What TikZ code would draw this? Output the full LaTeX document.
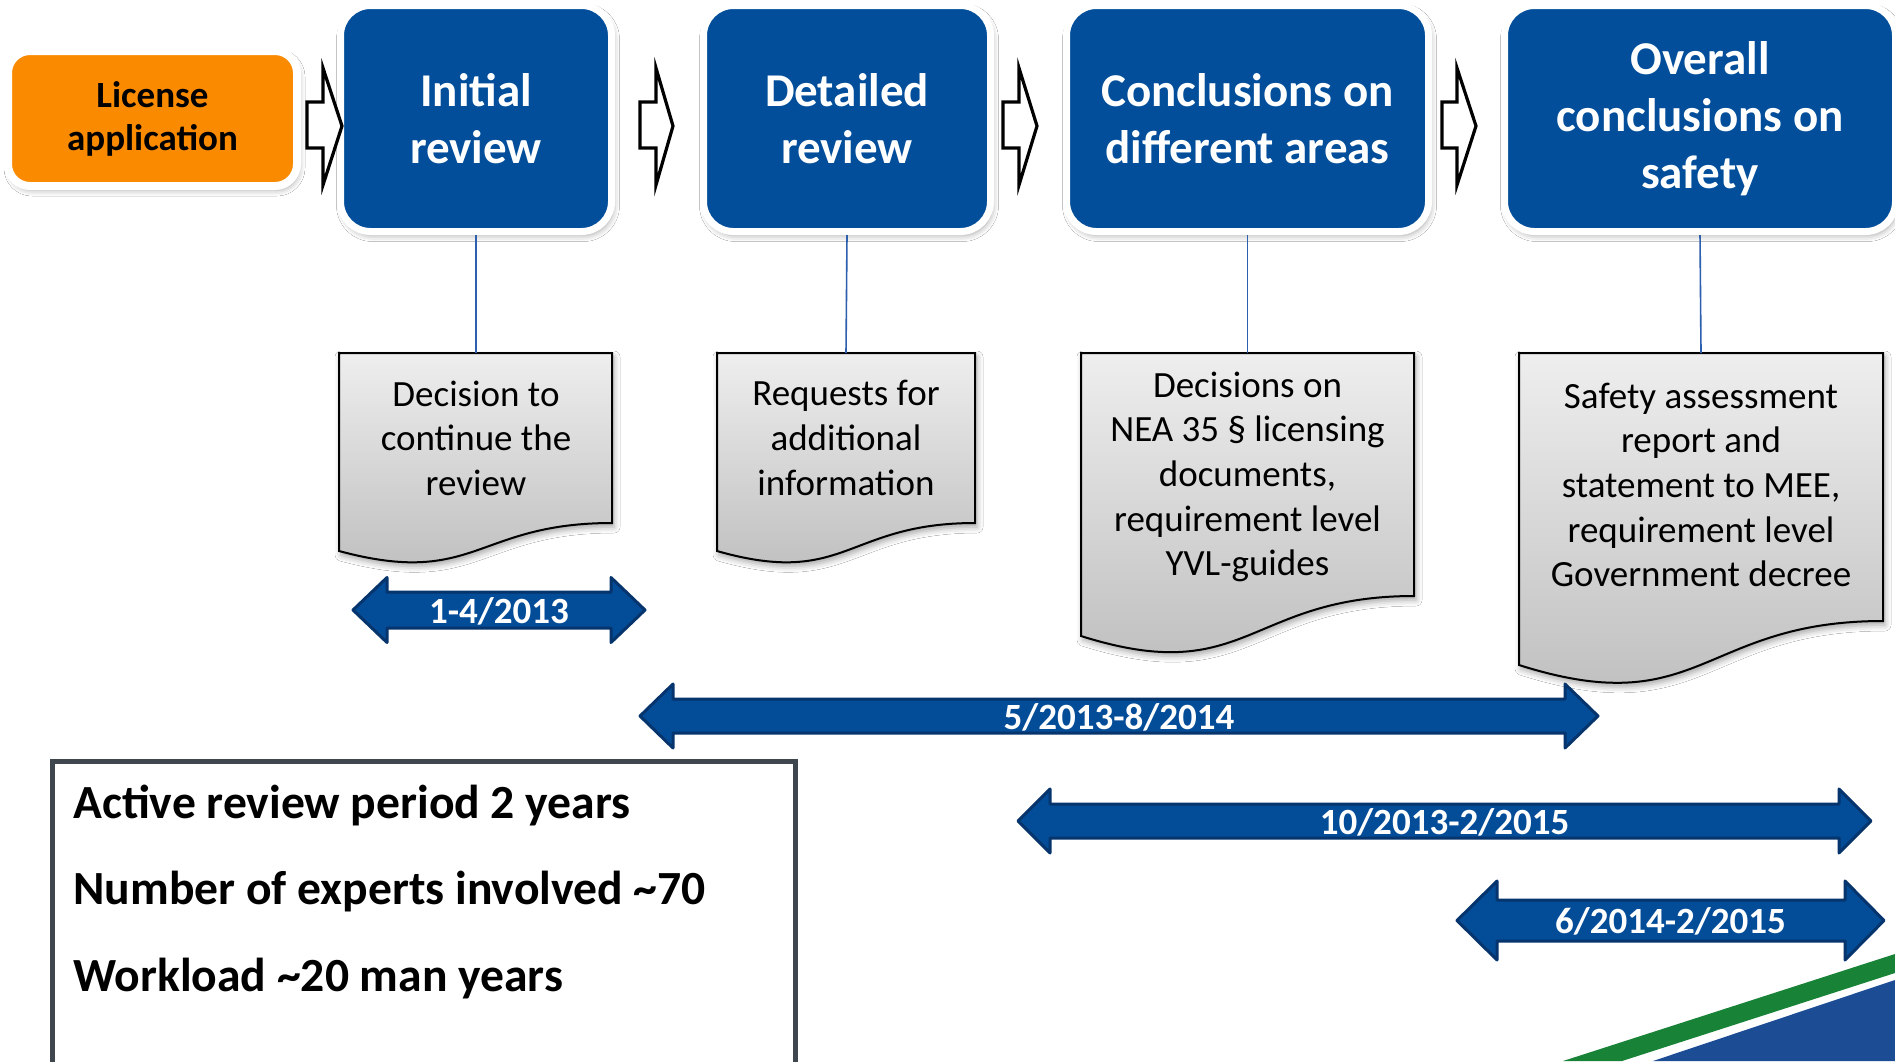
\documentclass[tikz,border=0pt]{standalone}
\usepackage{fontspec}
\setmainfont{Carlito}
\usetikzlibrary{shadows.blur}
\definecolor{boxblue}{RGB}{2,78,154}
\definecolor{arrblue}{RGB}{3,76,152}
\definecolor{arredge}{RGB}{6,52,108}
\definecolor{lineblue}{RGB}{45,95,175}
\definecolor{licorange}{RGB}{250,138,0}
\definecolor{framegray}{RGB}{64,70,78}
\definecolor{swgreen}{RGB}{24,130,55}
\definecolor{swblue}{RGB}{28,76,148}
\definecolor{doctop}{RGB}{238,238,238}
\definecolor{docbot}{RGB}{188,188,188}
\newcommand\dblarr[7]{\draw[tlarrow] (#1,#5) -- (#2,#5-#6) -- (#2,#5-#7) -- (#3,#5-#7) -- (#3,#5-#6) -- (#4,#5) -- (#3,#5+#6) -- (#3,#5+#7) -- (#2,#5+#7) -- (#2,#5+#6) -- cycle;}
\newcommand\blkarr[3]{\draw[blkarrow] (#1,102) -- (#2,102) -- (#2,68) -- (#3,126) -- (#2,185) -- (#2,148) -- (#1,148) -- cycle;}
\begin{document}
\begin{tikzpicture}[x=0.5pt,y=-0.5pt,
  shd/.style={blur shadow={shadow xshift=1pt,shadow yshift=-2pt,shadow blur radius=3pt,shadow opacity=35}},
  stage/.style={rectangle, rounded corners=15pt, fill=boxblue, draw=white, line width=3.5pt,
    minimum height=113pt, text=white, align=center, inner sep=0pt,
    font=\bfseries\fontsize{23.5}{28.5}\selectfont, shd},
  licbox/.style={rectangle, rounded corners=11pt, fill=licorange, draw=white, line width=4pt,
    minimum width=144.5pt, minimum height=67.5pt, text=black, align=center, inner sep=0pt,
    font=\bfseries\fontsize{18.5}{21.5}\selectfont, shd},
  docshape/.style={draw=black, line width=1pt, top color=doctop, bottom color=docbot, shd},
  doctext/.style={align=center, inner sep=0pt, text=black, font=\fontsize{18.5}{22.3}\selectfont},
  conn/.style={draw=lineblue, line width=0.8pt},
  blkarrow/.style={draw=black, fill=white, line width=1.6pt},
  tlarrow/.style={draw=arredge, fill=arrblue, line width=1.5pt, line join=round},
  tltext/.style={text=white, inner sep=0pt, font=\bfseries\fontsize{18.5}{22}\selectfont},
  infotext/.style={text=black, inner sep=0pt, anchor=base west, font=\bfseries\fontsize{23.8}{28}\selectfont}
]
\useasboundingbox (0,0) rectangle (1895,1061);
\begin{scope}
\clip (0,0) rectangle (1895,1061);
\fill[white] (0,0) rectangle (1895,1061);

% decorative swoosh
\fill[swgreen] (1563,1061) -- (1895,954) -- (1895,973) -- (1622,1061) -- cycle;
\fill[swblue] (1653,1061) -- (1895,980) -- (1895,1061) -- cycle;

% stage boxes
\node[licbox] (lic) at (152.5,118.5) {License\\application};
\node[stage, minimum width=135.5pt] (init) at (476,118.5) {Initial\\review};
\node[stage, minimum width=143.5pt] (det) at (847,118.5) {Detailed\\review};
\node[stage, minimum width=181pt] (conc) at (1247.5,118.5) {Conclusions on\\different areas};
\node[stage, minimum width=195.5pt] (over) at (1700,118.5) {Overall\\conclusions on\\safety};

% block arrows between stages
\blkarr{307}{323}{342}
\blkarr{640}{656}{673}
\blkarr{1003}{1019}{1037}
\blkarr{1442}{1457}{1476}

% documents
\draw[docshape] (339,353) -- (612,353) -- (612,523) .. controls (475.5,523) and (475.5,587.8) .. (339,551) -- cycle;
\draw[docshape] (717,353) -- (975,353) -- (975,523) .. controls (846,523) and (846,587.8) .. (717,551) -- cycle;
\draw[docshape] (1081,353) -- (1414,353) -- (1414,596) .. controls (1247.5,596) and (1247.5,688.6) .. (1081,636) -- cycle;
\draw[docshape] (1519,353) -- (1883,353) -- (1883,621) .. controls (1701,621) and (1701,722.9) .. (1519,665) -- cycle;
\coordinate (d1t) at (476,353);
\coordinate (d2t) at (846,353);
\coordinate (d3t) at (1247.5,353);
\coordinate (d4t) at (1701,353);
\node[doctext] (d1) at (476,438) {Decision to\\continue the\\review};
\node[doctext] (d2) at (846,438) {Requests for\\additional\\information};
\node[doctext] (d3) at (1247.5,477) {Decisions on\\NEA 35 § licensing\\documents,\\requirement level\\YVL-guides};
\node[doctext] (d4) at (1701,485) {Safety assessment\\report and\\statement to MEE,\\requirement level\\Government decree};

% connectors
\draw[conn] (init.south) -- (d1t);
\draw[conn] (det.south) -- (d2t);
\draw[conn] (conc.south) -- (d3t);
\draw[conn] (over.south) -- (d4t);

% timeline arrows
\dblarr{353}{387}{611}{645}{610}{32.5}{18}
\dblarr{640}{673}{1565}{1598}{716}{32}{17}
\dblarr{1018}{1050}{1839}{1871}{821}{32}{17}
\dblarr{1457}{1497}{1845}{1884}{920.5}{39.5}{20.5}
\node[tltext] (t1) at (499,611) {1-4/2013};
\node[tltext] (t2) at (1119,717) {5/2013-8/2014};
\node[tltext] (t3) at (1444.5,822) {10/2013-2/2015};
\node[tltext] (t4) at (1670.5,921) {6/2014-2/2015};

% info box
\draw[draw=framegray, line width=2.5pt] (52,761) rectangle (795,1080);
\node[infotext] (i1) at (73,818) {Active review period 2 years};
\node[infotext] (i2) at (73,904) {Number of experts involved \textasciitilde 70};
\node[infotext] (i3) at (73,991) {Workload \textasciitilde 20 man years};
\end{scope}
\end{tikzpicture}
\end{document}
